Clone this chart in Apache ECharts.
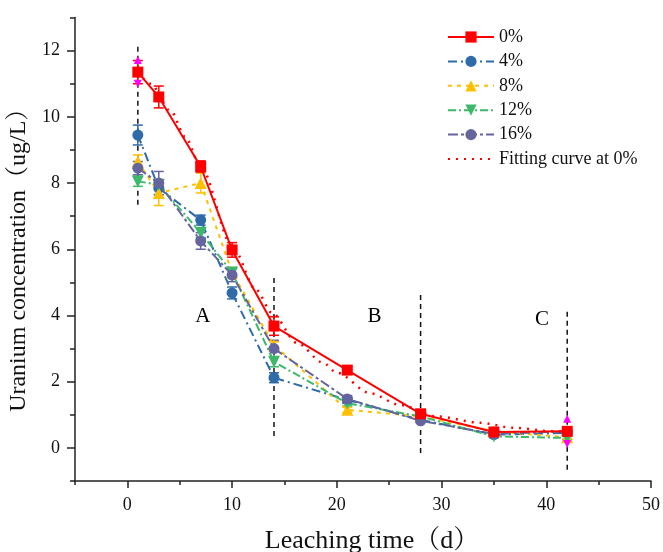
<!DOCTYPE html>
<html>
<head>
<meta charset="utf-8">
<script src="https://cdn.jsdelivr.net/npm/echarts@6/dist/echarts.min.js"></script>
<style>
html, body { margin: 0; padding: 0; background: #fff; }
#chart { width: 663px; height: 552px; }
</style>
</head>
<body>
<div id="chart"></div>
<script>
// leaching days and concentrations
var days = [1, 3, 7, 10, 14, 21, 28, 35, 42];
var c0  = [11.35, 10.6, 8.5, 5.98, 3.68, 2.35, 1.03, 0.48, 0.5];
var c4  = [9.45, 7.85, 6.88, 4.68, 2.12, 1.45, 0.85, 0.4, 0.45];
var c8  = [8.65, 7.7, 8.0, 5.3, 3.1, 1.15, 0.95, 0.5, 0.32];
var c12 = [8.05, 7.95, 6.5, 5.3, 2.6, 1.35, 0.95, 0.35, 0.3];
var c16 = [8.45, 8.0, 6.25, 5.22, 3.0, 1.48, 0.82, 0.42, 0.5];

// error bar half widths
var e0  = [0.35, 0.33, 0.17, 0.22, 0.28, 0.1, 0.08, 0.05, 0.05];
var e4  = [0.3, 0.2, 0.15, 0.18, 0.15, 0.1, 0.05, 0.05, 0.05];
var e8  = [0.2, 0.38, 0.3, 0.15, 0.1, 0.08, 0.05, 0.05, 0.05];
var e12 = [0.15, 0.15, 0.15, 0.1, 0.15, 0.08, 0.05, 0.05, 0.05];
var e16 = [0.2, 0.35, 0.25, 0.2, 0.25, 0.1, 0.05, 0.05, 0.05];

// fitting curve at 0%
var fitDays = [1, 2.2, 4.2, 5.5, 7, 10, 12.3, 13.8, 16.2, 18.7, 20, 23.2, 26, 29.5, 33.7, 36.8, 40.7, 42];
var fitVals = [11.35, 11.0, 10.15, 9.4, 8.5, 6.1, 4.77, 4.08, 3.17, 2.57, 2.27, 1.65, 1.3, 0.95, 0.76, 0.61, 0.5, 0.48];

// magenta markers at the fit ends
var mkDays = [1, 42];
var mkUp   = [11.72, 0.88];
var mkDown = [11.0, 0.12];

// vertical dashed stage boundaries
var segX   = [1, 14, 28, 42];
var segTop = [12.12, 5.13, 4.62, 4.11];
var segBot = [7.29, 0.31, -0.2, -0.71];

// stage labels
var stageNames = ['A', 'B', 'C'];
var stageX = [7.2, 23.6, 39.6];
var stageY = [3.97, 3.97, 3.87];

var xMajor = [0, 10, 20, 30, 40, 50];
var yMajor = [0, 2, 4, 6, 8, 10, 12];

var serif = "'Liberation Serif', 'Times New Roman', 'Noto Serif CJK SC', 'Noto Sans CJK SC', serif";
var axisColor = '#222';

function pairs(xs, ys) {
	var out = [];
	for (var i = 0; i < xs.length; i++) out.push([xs[i], ys[i]]);
	return out;
}

function errSeries(vals, errs, color) {
	var data = [];
	for (var i = 0; i < days.length; i++) data.push([days[i], vals[i], errs[i]]);
	return {
		type: 'custom',
		data: data,
		z: 3,
		silent: true,
		renderItem: function (params, api) {
			var x = api.value(0), y = api.value(1), e = api.value(2);
			var t = api.coord([x, y + e]);
			var b = api.coord([x, y - e]);
			var st = { stroke: color, lineWidth: 1.5 };
			return {
				type: 'group',
				children: [
					{ type: 'line', shape: { x1: t[0], y1: t[1], x2: b[0], y2: b[1] }, style: st },
					{ type: 'line', shape: { x1: t[0] - 5, y1: t[1], x2: t[0] + 5, y2: t[1] }, style: st },
					{ type: 'line', shape: { x1: b[0] - 5, y1: b[1], x2: b[0] + 5, y2: b[1] }, style: st }
				]
			};
		}
	};
}

function lineSeries(name, vals, color, dash, symbol, size, z) {
	return {
		name: name,
		type: 'line',
		data: pairs(days, vals),
		symbol: symbol,
		symbolSize: size,
		z: z,
		itemStyle: { color: color },
		lineStyle: { color: color, width: 2, type: dash }
	};
}

var myChart = echarts.init(document.getElementById('chart'));

var series = [];
series.push(errSeries(c4, e4, '#2E6BA8'));
series.push(errSeries(c8, e8, '#FFC000'));
series.push(errSeries(c12, e12, '#3CB96A'));
series.push(errSeries(c16, e16, '#64649E'));
series.push(errSeries(c0, e0, '#FF0000'));
series.push(lineSeries('4%', c4, '#2E6BA8', [9, 4, 2, 4], 'circle', 11, 4));
series.push(lineSeries('8%', c8, '#FFC000', [4, 5], 'triangle', 12, 4));
series.push(lineSeries('12%', c12, '#3CB96A', [8, 3, 2, 3], 'path://M0,0 L10,0 L5,9 Z', 12, 4));
series.push(lineSeries('16%', c16, '#64649E', [10, 3, 3, 3], 'circle', 11, 5));
series.push(lineSeries('0%', c0, '#FF0000', 'solid', 'rect', 11, 6));
series.push({
	name: 'Fitting curve at 0%',
	type: 'line',
	data: pairs(fitDays, fitVals),
	smooth: 0.3,
	smoothMonotone: 'x',
	showSymbol: false,
	symbol: 'none',
	z: 7,
	itemStyle: { color: '#FF0000' },
	lineStyle: { color: '#FF0000', width: 2.5, type: [2, 6] }
});
series.push({
	type: 'scatter',
	data: pairs(mkDays, mkUp),
	symbol: 'triangle',
	symbolSize: 8,
	z: 8,
	itemStyle: { color: '#FF00FF', opacity: 1 }
});
series.push({
	type: 'scatter',
	data: pairs(mkDays, mkDown),
	symbol: 'path://M0,0 L10,0 L5,9 Z',
	symbolSize: 8,
	z: 8,
	itemStyle: { color: '#FF00FF', opacity: 1 }
});
for (var k = 0; k < segX.length; k++) {
	series.push({
		type: 'line',
		data: [[segX[k], segTop[k]], [segX[k], segBot[k]]],
		symbol: 'none',
		z: 2,
		silent: true,
		lineStyle: { color: '#111', width: 1.5, type: [5, 4] }
	});
}
var stageData = [];
for (var s = 0; s < stageNames.length; s++) stageData.push([stageX[s], stageY[s], stageNames[s]]);
series.push({
	type: 'scatter',
	data: stageData,
	symbolSize: 0,
	silent: true,
	itemStyle: { opacity: 1 },
	label: {
		show: true,
		position: 'inside',
		formatter: function (p) { return p.value[2]; },
		fontFamily: serif,
		fontSize: 21,
		color: '#000',
		opacity: 1
	}
});

option = {
	animation: false,
	backgroundColor: '#fff',
	legend: {
		orient: 'vertical',
		left: 447,
		top: 28,
		padding: 0,
		itemWidth: 46,
		itemHeight: 14,
		itemGap: 6.4,
		textStyle: { fontFamily: serif, fontSize: 18, color: '#111' },
		data: ['0%', '4%', '8%', '12%', '16%', { name: 'Fitting curve at 0%', itemStyle: { opacity: 0 } }]
	},
	grid: {
		left: 75,
		right: 12,
		top: 17.5,
		bottom: 71,
		outerBoundsMode: 'none'
	},
	xAxis: [
		{
			type: 'value',
			min: -5,
			max: 50,
			interval: 5,
			name: 'Leaching time（d）',
			nameLocation: 'middle',
			nameGap: 47,
			nameTextStyle: { fontFamily: serif, fontSize: 26, color: '#111', padding: [0, 0, 0, 18] },
			axisLine: { onZero: false, lineStyle: { color: axisColor, width: 1.5 } },
			axisTick: { length: 4, lineStyle: { color: axisColor, width: 1.5 } },
			axisLabel: {
				margin: 15,
				fontFamily: serif,
				fontSize: 18,
				color: '#111',
				formatter: function (v) { return v % 10 === 0 ? v : ''; }
			},
			splitLine: { show: false }
		},
		{
			type: 'value',
			min: -5,
			max: 50,
			position: 'bottom',
			axisLine: { show: false, onZero: false },
			axisTick: { show: true, length: 7, customValues: xMajor, lineStyle: { color: axisColor, width: 1.5 } },
			axisLabel: { show: false },
			splitLine: { show: false }
		}
	],
	yAxis: [
		{
			type: 'value',
			min: -1,
			max: 13,
			interval: 1,
			name: 'Uranium concentration（ug/L）',
			nameLocation: 'middle',
			nameGap: 38,
			nameTextStyle: { fontFamily: serif, fontSize: 24, color: '#111', padding: [0, 10, 0, 0] },
			axisLine: { show: true, onZero: false, lineStyle: { color: axisColor, width: 1.5 } },
			axisTick: { show: true, length: 5, lineStyle: { color: axisColor, width: 1.5 } },
			axisLabel: {
				margin: 15,
				fontFamily: serif,
				fontSize: 18,
				color: '#111',
				formatter: function (v) { return v % 2 === 0 ? v : ''; }
			},
			splitLine: { show: false }
		},
		{
			type: 'value',
			min: -1,
			max: 13,
			position: 'left',
			axisLine: { show: false, onZero: false },
			axisTick: { show: true, length: 8, customValues: yMajor, lineStyle: { color: axisColor, width: 1.5 } },
			axisLabel: { show: false },
			splitLine: { show: false }
		}
	],
	series: series
};
myChart.setOption(option);
</script>
</body>
</html>
